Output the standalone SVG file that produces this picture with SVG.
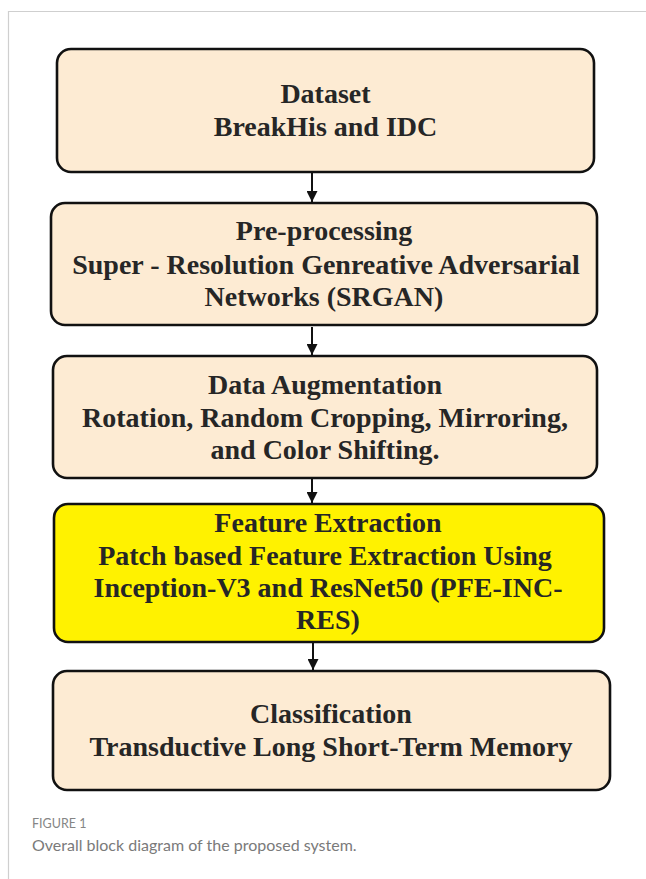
<svg xmlns="http://www.w3.org/2000/svg" width="646" height="879" viewBox="0 0 646 879">
  <style>
    .box { fill: #fdebd3; stroke: #111; stroke-width: 2.6; }
    .hl { fill: #fff200; }
    .lbl { font-family: "Liberation Serif", "Times New Roman", serif; font-weight: bold; font-size: 28px; fill: #262626; text-anchor: middle; }
    .conn { stroke: #111; stroke-width: 2; fill: none; }
    .cap1 { font-family: Lato, "Open Sans", sans-serif; font-size: 12.5px; fill: #858585; }
    .cap2 { font-family: Lato, "Open Sans", sans-serif; font-size: 16px; fill: #7a7a7a; }
  </style>
  <defs>
    <marker id="arrow" viewBox="0 0 10 10" refX="10" refY="5" markerWidth="5.5" markerHeight="5.5" markerUnits="strokeWidth" orient="auto">
      <path d="M0,0 L10,5 L0,10 z" fill="#111"/>
    </marker>
  </defs>

  <rect width="646" height="879" fill="#fff"/>
  <!-- page frame -->
  <path d="M8.5,879 V11.5 H646" fill="none" stroke="#cfcfcf" stroke-width="1.2"/>

  <g id="connectors">
    <line class="conn" x1="312" y1="173" x2="312" y2="202" marker-end="url(#arrow)"/>
    <line class="conn" x1="312" y1="327" x2="312" y2="355" marker-end="url(#arrow)"/>
    <line class="conn" x1="312" y1="479" x2="312" y2="503" marker-end="url(#arrow)"/>
    <line class="conn" x1="313" y1="643" x2="313" y2="670" marker-end="url(#arrow)"/>
  </g>

  <g id="dataset">
    <rect class="box" x="57" y="49" width="537" height="123" rx="14"/>
    <text class="lbl" x="325.5" y="103">Dataset</text>
    <text class="lbl" x="325.5" y="136">BreakHis and IDC</text>
  </g>

  <g id="preprocessing">
    <rect class="box" x="51" y="203" width="546" height="122" rx="14"/>
    <text class="lbl" x="324" y="240">Pre-processing</text>
    <text class="lbl" x="326" y="274">Super - Resolution Genreative Adversarial</text>
    <text class="lbl" x="324" y="306">Networks (SRGAN)</text>
  </g>

  <g id="augmentation">
    <rect class="box" x="53" y="356" width="544" height="122" rx="14"/>
    <text class="lbl" x="325" y="394">Data Augmentation</text>
    <text class="lbl" x="325" y="427">Rotation, Random Cropping, Mirroring,</text>
    <text class="lbl" x="325" y="459">and Color Shifting.</text>
  </g>

  <g id="feature-extraction">
    <rect class="box hl" x="54" y="504" width="550" height="138" rx="14"/>
    <text class="lbl" x="328" y="532">Feature Extraction</text>
    <text class="lbl" x="325" y="565">Patch based Feature Extraction Using</text>
    <text class="lbl" x="328" y="597">Inception-V3 and ResNet50 (PFE-INC-</text>
    <text class="lbl" x="328" y="629">RES)</text>
  </g>

  <g id="classification">
    <rect class="box" x="53" y="671" width="557" height="119" rx="14"/>
    <text class="lbl" x="331" y="723">Classification</text>
    <text class="lbl" x="331" y="756">Transductive Long Short-Term Memory</text>
  </g>

  <g id="caption">
    <text class="cap1" x="32" y="828">FIGURE 1</text>
    <text class="cap2" x="32" y="851">Overall block diagram of the proposed system.</text>
  </g>
</svg>
